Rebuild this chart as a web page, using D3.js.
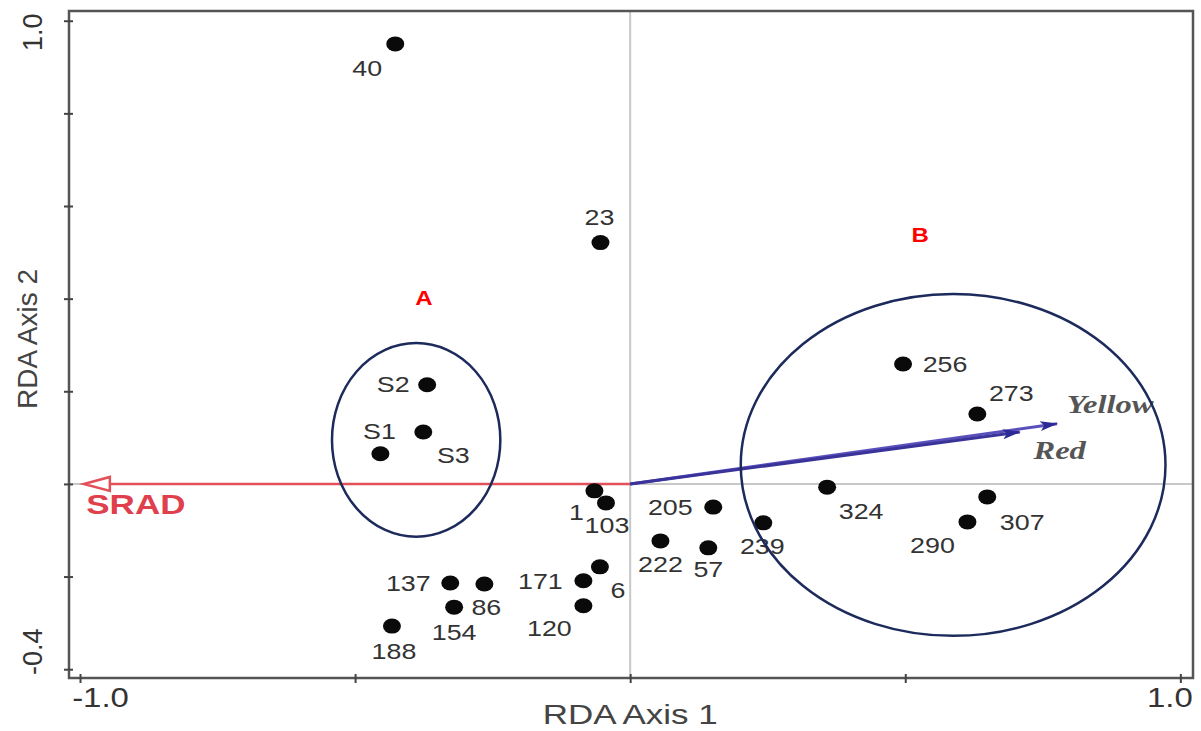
<!DOCTYPE html>
<html>
<head>
<meta charset="utf-8">
<script src="https://cdn.jsdelivr.net/npm/d3@7/dist/d3.min.js"></script>
<style>
body { margin: 0; background: #fff; }
svg { display: block; }
.site text { font-family: "Liberation Sans", Arial, sans-serif; font-size: 22px; fill: #333; }
.axis text { font-family: "Liberation Sans", Arial, sans-serif; font-size: 27px; fill: #333; }
</style>
</head>
<body>
<div id="chart"></div>
<script>
// sample scores on the two RDA axes
var siteNames = ["40","23","S2","S3","S1","1","103","205","222","57","239","324","256","273","307","290","171","6","120","137","86","154","188"];
var axis1 = [-0.427,-0.054,-0.369,-0.376,-0.454,-0.065,-0.044,0.151,0.055,0.142,0.242,0.358,0.496,0.631,0.649,0.613,-0.085,-0.055,-0.085,-0.327,-0.265,-0.320,-0.433];
var axis2 = [0.950,0.521,0.214,0.112,0.065,-0.015,-0.041,-0.050,-0.123,-0.138,-0.084,-0.007,0.259,0.151,-0.028,-0.082,-0.209,-0.179,-0.263,-0.214,-0.216,-0.266,-0.307];

// environmental vectors
var envNames = ["SRAD","Yellow","Red"];
var envX = [-0.993, 0.776, 0.708];
var envY = [0, 0.130, 0.112];

// group ellipses (centre and radii in axis units) and their letters
var groupNames = ["A","B"];
var groupCx = [-0.389, 0.587];
var groupCy = [0.095, 0.041];
var groupRx = [0.153, 0.386];
var groupRy = [0.209, 0.369];
var groupLabelX = [-0.375, 0.527];
var groupLabelY = [0.402, 0.536];

var xTicks = [-1, -0.5, 0, 0.5, 1];
var yTicks = [-0.4, -0.2, 0, 0.2, 0.4, 0.6, 0.8, 1.0];
var xLabelled = [-1, 1];
var yLabelled = [-0.4, 1.0];

// label placement relative to each point: [dx, dy]
var labelOff = {
  "40":[-28,24], "23":[-1,-25], "S2":[-34,0], "S3":[30,23], "S1":[-1,-22],
  "1":[-18,22], "103":[1,22], "205":[-43,0], "222":[0,23], "57":[0,22],
  "239":[-1,24], "324":[34,24], "256":[42,0], "273":[34,-21], "307":[35,25],
  "290":[-35,23], "171":[-43,1], "6":[18,24], "120":[-34,23], "137":[-42,0],
  "86":[2,23], "154":[0,25], "188":[2,25]
};

var W = 1201, H = 731;
var xMin = -1.02, xMax = 1.023, yMin = -0.419, yMax = 1.021;
var x = d3.scaleLinear().domain([xMin, xMax]).range([69, 1193]);
var y = d3.scaleLinear().domain([yMin, yMax]).range([678, 11]);
var sx = 1.22; // the source picture is stretched sideways

function fmt(d) { return d.toFixed(1); }
function inList(list, d) { return list.some(function(v) { return Math.abs(v - d) < 1e-9; }); }

var svg = d3.select("#chart").append("svg")
  .attr("width", W).attr("height", H);

var defs = svg.append("defs");
defs.append("marker").attr("id", "blueHead")
  .attr("viewBox", "0 0 18 12").attr("refX", 17).attr("refY", 6)
  .attr("markerUnits", "userSpaceOnUse")
  .attr("markerWidth", 18).attr("markerHeight", 12).attr("orient", "auto")
  .append("path").attr("d", "M0,1 L18,6 L0,11 L4,6 Z").attr("fill", "#2c2a94");

// zero lines
svg.append("line").attr("x1", x(0)).attr("x2", x(0)).attr("y1", y(yMax)).attr("y2", y(yMin))
  .attr("stroke", "#c8c8c8").attr("stroke-width", 2);
svg.append("line").attr("x1", x(xMin)).attr("x2", x(xMax)).attr("y1", y(0)).attr("y2", y(0))
  .attr("stroke", "#c8c8c8").attr("stroke-width", 2);

// frame
svg.append("rect").attr("x", x(xMin)).attr("y", y(yMax))
  .attr("width", x(xMax) - x(xMin)).attr("height", y(yMin) - y(yMax))
  .attr("fill", "none").attr("stroke", "#555").attr("stroke-width", 2.5);

// x axis
var gx = svg.append("g").attr("class", "axis").attr("transform", "translate(0," + y(yMin) + ")")
  .call(d3.axisBottom(x).tickValues(xTicks).tickSize(5).tickPadding(12)
    .tickFormat(function(d) { return inList(xLabelled, d) ? fmt(d) : ""; }));
gx.select(".domain").remove();
gx.selectAll(".tick line").attr("y1", -4).attr("y2", 5).attr("stroke", "#444").attr("stroke-width", 2);
gx.selectAll(".tick text")
  .attr("transform", function(d) { return "translate(" + (d < 0 ? 20 : -11) + ",0) scale(" + sx + ",1)"; })
  .attr("y", 20).attr("dy", "0.35em");

// y axis
var gy = svg.append("g").attr("class", "axis").attr("transform", "translate(" + x(xMin) + ",0)")
  .call(d3.axisLeft(y).tickValues(yTicks).tickSize(5)
    .tickFormat(function(d) { return inList(yLabelled, d) ? fmt(d) : ""; }));
gy.select(".domain").remove();
gy.selectAll(".tick line").attr("x1", -5).attr("x2", 4).attr("stroke", "#444").attr("stroke-width", 2);
gy.selectAll(".tick text")
  .attr("x", null).attr("dy", null)
  .attr("text-anchor", "middle").attr("dominant-baseline", "central")
  .attr("transform", function(d) { return "translate(-36," + (d > 0 ? 11 : -18) + ") rotate(-90)"; });

// axis titles
svg.append("text")
  .attr("transform", "translate(" + x(0) + ",714) scale(1.25,1)")
  .attr("text-anchor", "middle").attr("dominant-baseline", "central")
  .style("font-family", "Liberation Sans, Arial, sans-serif").style("font-size", "28px").style("fill", "#444")
  .text("RDA Axis 1");
svg.append("text")
  .attr("transform", "translate(27,339) rotate(-90)")
  .attr("text-anchor", "middle").attr("dominant-baseline", "central")
  .style("font-family", "Liberation Sans, Arial, sans-serif").style("font-size", "28px").style("fill", "#444")
  .text("RDA Axis 2");

// SRAD vector (open head)
var tipX = x(envX[0]), tipY = y(envY[0]);
svg.append("line").attr("x1", x(0)).attr("y1", y(0)).attr("x2", tipX + 26).attr("y2", tipY)
  .attr("stroke", "#e2505a").attr("stroke-width", 2.5);
svg.append("path")
  .attr("d", "M" + tipX + "," + tipY + " L" + (tipX + 26) + "," + (tipY - 7) + " L" + (tipX + 26) + "," + (tipY + 7) + " Z")
  .attr("fill", "#fff").attr("stroke", "#e2505a").attr("stroke-width", 2.5);
svg.append("text")
  .attr("transform", "translate(" + (tipX + 52) + "," + (tipY + 20) + ") scale(1.25,1)")
  .attr("text-anchor", "middle").attr("dominant-baseline", "central")
  .style("font-family", "Liberation Sans, Arial, sans-serif").style("font-size", "28px")
  .style("font-weight", "bold").style("fill", "#e0404c")
  .text(envNames[0]);

// Yellow and Red vectors
[1, 2].forEach(function(i) {
  svg.append("line").attr("x1", x(0)).attr("y1", y(0)).attr("x2", x(envX[i])).attr("y2", y(envY[i]))
    .attr("stroke", i === 1 ? "#5a50bc" : "#3a3399").attr("stroke-width", 3)
    .attr("marker-end", "url(#blueHead)");
});
var envLabelOff = [null, [53, -20], [40, 18]];
[1, 2].forEach(function(i) {
  svg.append("text")
    .attr("transform", "translate(" + (x(envX[i]) + envLabelOff[i][0]) + "," + (y(envY[i]) + envLabelOff[i][1]) + ") scale(1.25,1)")
    .attr("text-anchor", "middle").attr("dominant-baseline", "central")
    .style("font-family", "Liberation Serif, Times New Roman, serif").style("font-style", "italic")
    .style("font-weight", "bold").style("font-size", "26px").style("fill", "#555")
    .text(envNames[i]);
});

// points
var sites = siteNames.map(function(n, i) { return { name: n, a1: axis1[i], a2: axis2[i] }; });
var g = svg.append("g").attr("class", "site");
g.selectAll("ellipse").data(sites).enter().append("ellipse")
  .attr("cx", function(d) { return x(d.a1); })
  .attr("cy", function(d) { return y(d.a2); })
  .attr("rx", 9).attr("ry", 7.5).attr("fill", "#0a0a0a");
g.selectAll("text").data(sites).enter().append("text")
  .attr("transform", function(d) {
    var o = labelOff[d.name];
    return "translate(" + (x(d.a1) + o[0]) + "," + (y(d.a2) + o[1]) + ") scale(" + sx + ",1)";
  })
  .attr("text-anchor", "middle").attr("dominant-baseline", "central")
  .text(function(d) { return d.name; });

// group ellipses and letters
var groups = groupNames.map(function(n, i) {
  return { name: n, cx: groupCx[i], cy: groupCy[i], rx: groupRx[i], ry: groupRy[i], lx: groupLabelX[i], ly: groupLabelY[i] };
});
svg.selectAll("ellipse.grp").data(groups).enter().append("ellipse").attr("class", "grp")
  .attr("cx", function(d) { return x(d.cx); })
  .attr("cy", function(d) { return y(d.cy); })
  .attr("rx", function(d) { return x(d.rx) - x(0); })
  .attr("ry", function(d) { return y(0) - y(d.ry); })
  .attr("fill", "none").attr("stroke", "#1c2a5c").attr("stroke-width", 2.5);

svg.selectAll("text.grp").data(groups).enter().append("text").attr("class", "grp")
  .attr("transform", function(d) { return "translate(" + x(d.lx) + "," + y(d.ly) + ") scale(1.2,1)"; })
  .attr("text-anchor", "middle").attr("dominant-baseline", "central")
  .style("font-family", "Liberation Sans, Arial, sans-serif").style("font-size", "20px")
  .style("font-weight", "bold").style("fill", "#f00")
  .text(function(d) { return d.name; });
</script>
</body>
</html>
